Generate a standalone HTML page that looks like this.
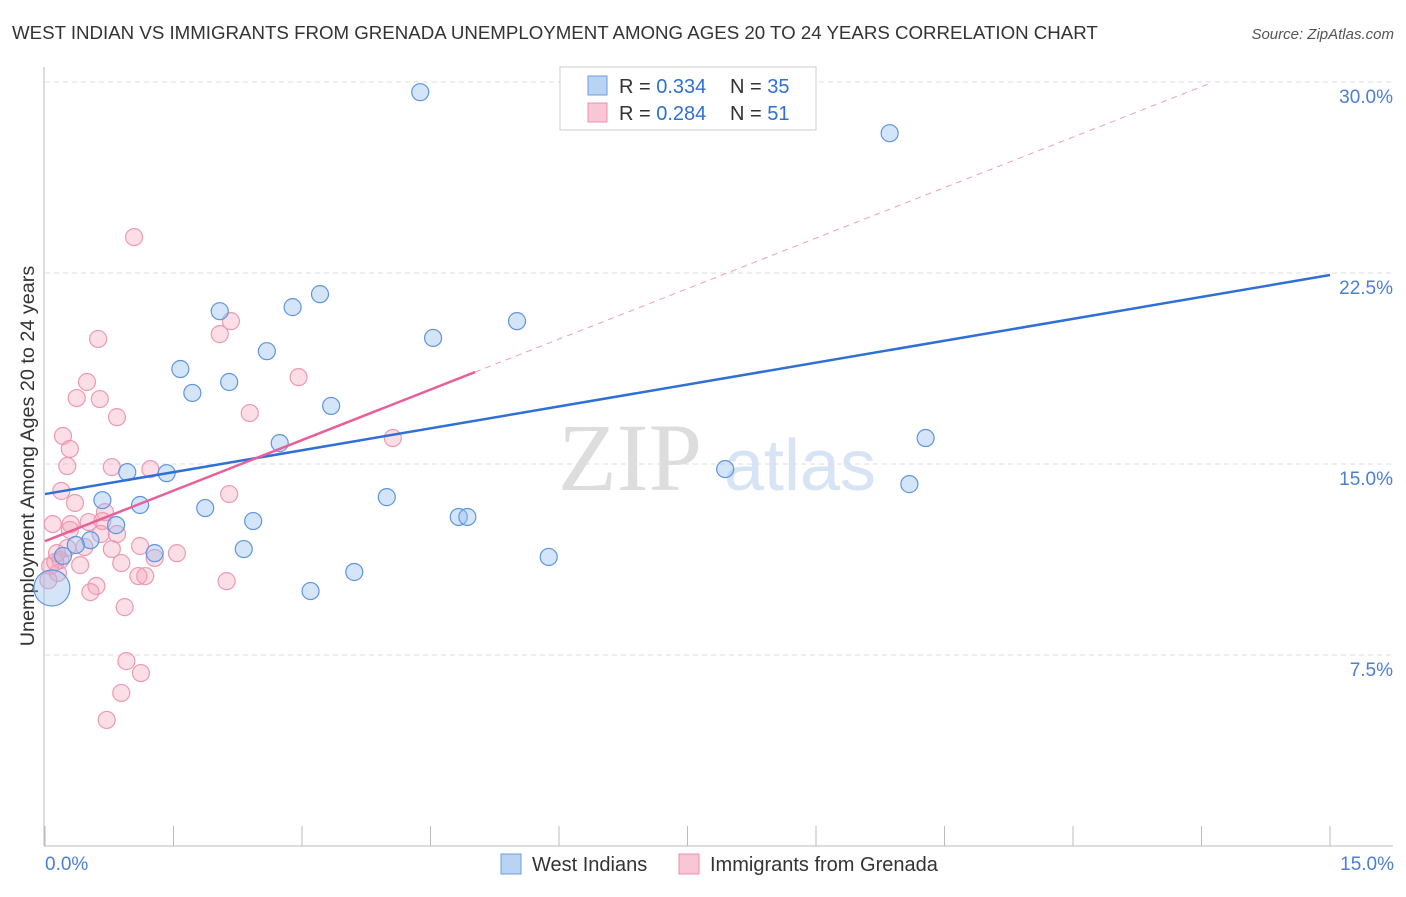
<!DOCTYPE html>
<html><head><meta charset="utf-8"><style>
body{margin:0;background:#fff;font-family:"Liberation Sans",sans-serif}
</style></head><body>
<svg width="1406" height="892" xmlns="http://www.w3.org/2000/svg" font-family="Liberation Sans, sans-serif">
<text x="12" y="39" font-size="18.7" fill="#333">WEST INDIAN VS IMMIGRANTS FROM GRENADA UNEMPLOYMENT AMONG AGES 20 TO 24 YEARS CORRELATION CHART</text>
<text x="1394" y="39" font-size="15" fill="#555" font-style="italic" text-anchor="end">Source: ZipAtlas.com</text>
<text x="630" y="490" font-size="96" fill="#ddd" font-family="Liberation Serif, serif" text-anchor="middle">ZIP</text>
<text x="800" y="490" font-size="72" fill="#d6e4f5" text-anchor="middle">atlas</text>
<g id="grid"></g>
<line x1="44" y1="67" x2="44" y2="846" stroke="#bbb"/>
<line x1="44" y1="846" x2="1393" y2="846" stroke="#bbb"/>
<g id="ticks"></g>
<text transform="translate(34,456) rotate(-90)" font-size="19.8" fill="#333" text-anchor="middle">Unemployment Among Ages 20 to 24 years</text>
<text x="45" y="870" font-size="19" fill="#4a7fd4">0.0%</text>
<text x="1394" y="870" font-size="19" fill="#4a7fd4" text-anchor="end">15.0%</text>
<g id="pts"></g>
<g id="lines"></g>
<g>
<rect x="560" y="67" width="256" height="63" fill="#fff" stroke="#ccc"/>
<rect x="588" y="76" width="19" height="19" fill="#b9d3f5" stroke="#6b9ee0"/>
<rect x="588" y="103" width="19" height="19" fill="#f9c6d5" stroke="#eb92ad"/>
<text x="619" y="93" font-size="20" fill="#333">R = <tspan fill="#2f6fd6">0.334</tspan></text>
<text x="730" y="93" font-size="20" fill="#333">N = <tspan fill="#2f6fd6">35</tspan></text>
<text x="619" y="120" font-size="20" fill="#333">R = <tspan fill="#2f6fd6">0.284</tspan></text>
<text x="730" y="120" font-size="20" fill="#333">N =  <tspan fill="#2f6fd6">51</tspan></text>
</g>
<g>
<rect x="501" y="854" width="20" height="20" fill="#b9d3f5" stroke="#6b9ee0"/>
<text x="532" y="871" font-size="20" fill="#333">West Indians</text>
<rect x="679" y="854" width="20" height="20" fill="#f9c6d5" stroke="#eb92ad"/>
<text x="710" y="871" font-size="20" fill="#333">Immigrants from Grenada</text>
</g>
</svg>
<script>
const yTicks=[7.5,15,22.5,30];
const yTickLabels=["7.5%","15.0%","22.5%","30.0%"];
const xTicks=[0,1.5,3,4.5,6,7.5,9,10.5,12,13.5,15];
const blueX=[4.38,9.86,2.04,2.89,3.21,5.51,4.53,2.59,1.58,2.15,1.72,3.34,10.28,2.74,0.96,1.42,7.94,10.09,3.99,0.67,1.11,1.87,2.43,4.83,4.93,0.83,0.53,0.36,1.28,2.32,5.88,0.21,3.61,3.10,0.08];
const blueY=[29.6,27.99,21.0,21.16,21.67,20.61,19.95,19.43,18.73,18.22,17.79,17.28,16.02,15.82,14.68,14.64,14.8,14.21,13.7,13.58,13.39,13.27,12.76,12.92,12.92,12.6,12.01,11.82,11.5,11.66,11.35,11.39,10.76,10.01,10.13];
const blueBig=[0,0,0,0,0,0,0,0,0,0,0,0,0,0,0,0,0,0,0,0,0,0,0,0,0,0,0,0,0,0,0,0,0,0,1];
const pinkX=[1.04,0.62,2.17,2.04,2.96,0.49,0.37,0.64,0.84,2.39,0.21,0.29,0.26,0.78,1.23,4.06,2.15,0.19,0.35,0.70,0.09,0.51,0.30,0.67,0.84,0.65,0.46,1.11,1.54,1.28,0.26,0.18,0.41,0.89,0.06,0.15,1.09,1.17,2.12,0.60,0.53,0.93,0.95,1.12,0.89,0.72,0.12,0.04,0.14,0.29,0.78];
const pinkY=[23.91,19.91,20.61,20.1,18.41,18.22,17.59,17.55,16.84,17.0,16.1,15.59,14.92,14.88,14.8,16.02,13.82,13.94,13.47,13.11,12.64,12.72,12.64,12.76,12.25,12.25,11.74,11.78,11.5,11.31,11.7,11.23,11.03,11.11,10.99,10.72,10.6,10.6,10.4,10.21,9.97,9.38,7.26,6.79,6.01,4.95,11.15,10.44,11.5,12.41,11.66];
const blueLine=[[0,13.82],[15,22.42]];
const pinkLine=[[0,11.97],[5.02,18.61]];
const pinkDash=[[5.02,18.61],[13.6,29.95]];
const NS="http://www.w3.org/2000/svg";
const sx=v=>45+v*(1285/15), sy=v=>846-v*(764/30);
function mk(t,a,p){const e=document.createElementNS(NS,t);for(const k in a)e.setAttribute(k,a[k]);document.getElementById(p).appendChild(e);return e;}
yTicks.forEach((t,i)=>{
 const l=mk('line',{x1:45,x2:1393,y1:sy(t),y2:sy(t),stroke:'#ddd','stroke-dasharray':'5,4'},'grid');
 
 
 const tx=mk('text',{x:1393,y:sy(t)+21,'font-size':19,fill:'#4a7fd4','text-anchor':'end'},'grid');
 tx.textContent=yTickLabels[i];
 
 
});
xTicks.forEach(t=>{
 const l=mk('line',{x1:sx(t),x2:sx(t),y1:826,y2:846,stroke:'#bbb'},'ticks');
 
 
});
pinkX.forEach((x,i)=>{
 const c=mk('circle',{cx:sx(x),cy:sy(pinkY[i]),r:8.5,fill:'rgba(245,160,185,0.35)',stroke:'#ec9ab3','stroke-width':1.2},'pts');
 
 
});
blueX.forEach((x,i)=>{
 const c=mk('circle',{cx:sx(x),cy:sy(blueY[i]),r:blueBig[i]?18:8.5,fill:'rgba(150,190,240,0.4)',stroke:'#5f95df','stroke-width':1.2},'pts');
 
 
});
function ln(d,st,w,dash,name){const l=mk('line',{x1:sx(d[0][0]),y1:sy(d[0][1]),x2:sx(d[1][0]),y2:sy(d[1][1]),stroke:st,'stroke-width':w},'lines');if(dash)l.setAttribute('stroke-dasharray',dash);
 
 }
ln(pinkDash,'#eca0b8',1,'6,5','grenada-trend-extension');
ln(blueLine,'#2f6fd6',2.5,null,'west-indians-trendline');
ln(pinkLine,'#e8609a',2.5,null,'grenada-trendline');
</script>
</body></html>
